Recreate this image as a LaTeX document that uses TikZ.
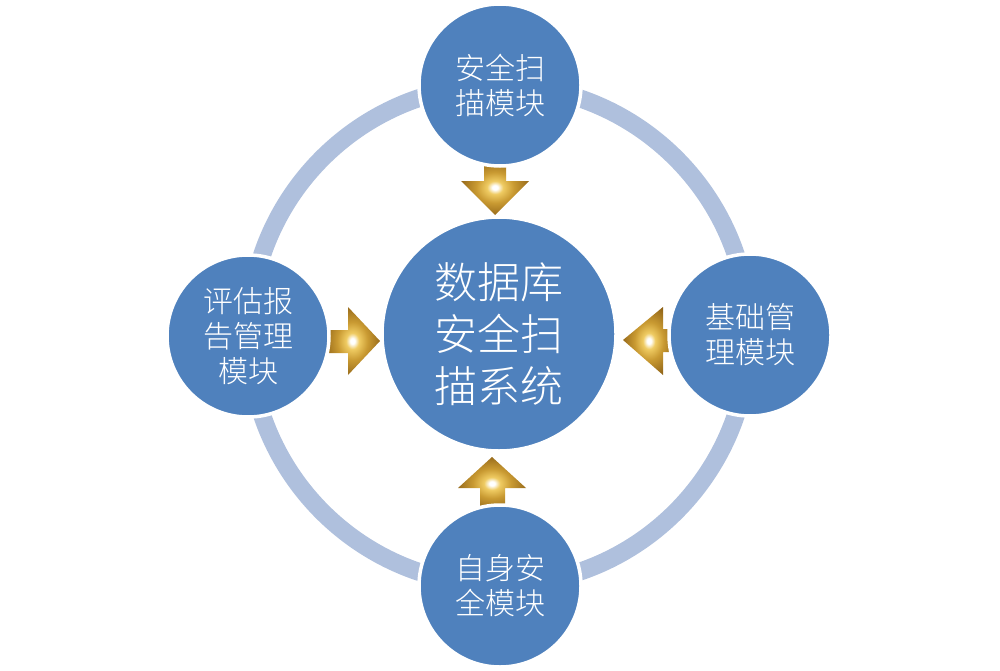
\documentclass[tikz,border=0pt]{standalone}
\usepackage{fontspec}
\newfontfamily\cjk{Noto Sans CJK SC Light}
\definecolor{cblue}{HTML}{4F81BD}
\definecolor{cring}{HTML}{AFC0DD}
\definecolor{goldL}{HTML}{EFCB62}
\definecolor{goldM}{HTML}{C99A32}
\definecolor{goldD}{HTML}{8C6016}
\pgfdeclareradialshading{goldball}{\pgfpoint{0bp}{0bp}}{color(0bp)=(white); color(2bp)=(white); color(6bp)=(goldL); color(14bp)=(goldM); color(28bp)=(goldD); color(50bp)=(goldD)}
\tikzset{
  mod/.style={circle, fill=cblue, draw=white, line width=3.5pt, text=white, align=center, inner sep=0pt},
  small/.style={mod, minimum size=162pt, font=\cjk\fontsize{30}{35}\selectfont},
  big/.style={mod, minimum size=234pt, font=\cjk\fontsize{43}{52}\selectfont},
  ringline/.style={draw=cring, line width=18pt},
  goldarrow/.style={shading=goldball},
}
\begin{document}
\begin{tikzpicture}[x=1pt,y=-1pt]
\useasboundingbox (0,0) rectangle (1000,671);
\coordinate (ringc) at (499,335);
\draw[ringline] (ringc) circle [radius=250];
% arrows
\shade[goldarrow] (484,160) -- (506,160) -- (506,181) -- (529,181) -- (495,215) -- (461,181) -- (484,181) -- cycle;
\shade[goldarrow] (480,510) -- (505,510) -- (505,488) -- (526,488) -- (492,457) -- (458,488) -- (480,488) -- cycle;
\shade[goldarrow] (325,330) -- (348,330) -- (348,307) -- (380,341) -- (348,375) -- (348,353) -- (325,353) -- cycle;
\shade[goldarrow] (675,329) -- (663,329) -- (663,307) -- (623,340) -- (663,375) -- (663,352) -- (675,352) -- cycle;
% circles
\node[big]   (center) at (499,334) {数据库\\安全扫\\描系统};
\node[small] (top)    at (500,85)  {安全扫\\描模块};
\node[small] (bottom) at (500,586) {自身安\\全模块};
\node[small] (left)   at (248,336) {评估报\\告管理\\模块};
\node[small] (right)  at (750,335) {基础管\\理模块};
\end{tikzpicture}
\end{document}
